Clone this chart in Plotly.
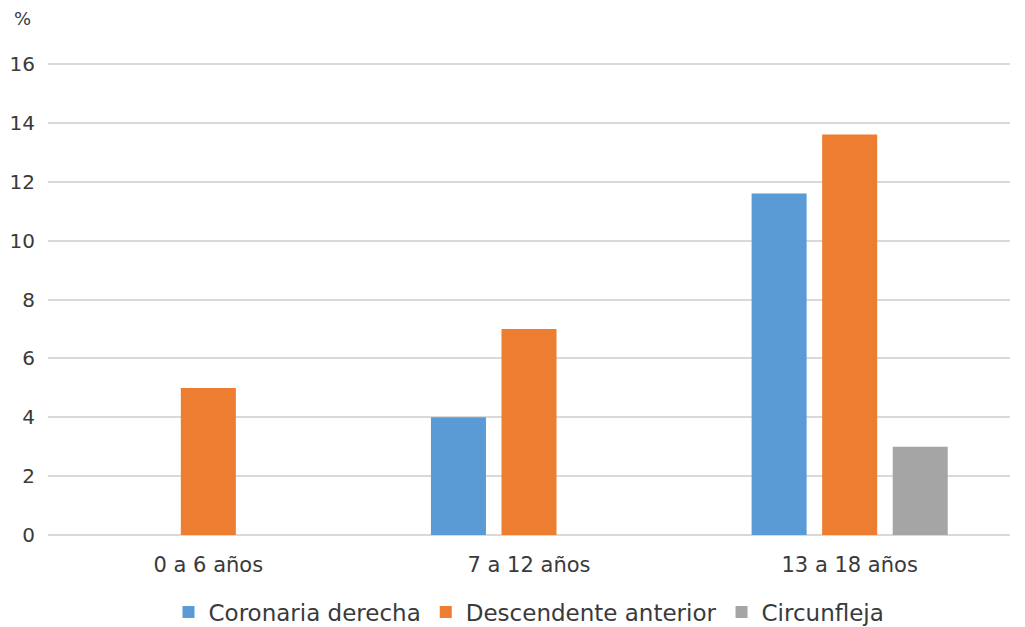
import plotly.graph_objects as go

categories = ["0 a 6 años", "7 a 12 años", "13 a 18 años"]
coronaria_derecha = [None, 4, 11.6]
descendente_anterior = [5, 7, 13.6]
circunfleja = [None, None, 3]
y_ticks = [0, 2, 4, 6, 8, 10, 12, 14, 16]

FONT = "DejaVu Sans"
TXT = "#3A3A3A"
GRID = "#D9D9D9"

fig = go.Figure()
fig.add_trace(go.Bar(name="Coronaria derecha", x=categories, y=coronaria_derecha,
                     marker=dict(color="#5B9BD5", line=dict(width=0))))
fig.add_trace(go.Bar(name="Descendente anterior", x=categories, y=descendente_anterior,
                     marker=dict(color="#ED7D31", line=dict(width=0))))
fig.add_trace(go.Bar(name="Circunfleja", x=categories, y=circunfleja,
                     marker=dict(color="#A5A5A5", line=dict(width=0))))

fig.update_layout(
    width=1025, height=627,
    margin=dict(l=48, r=15, t=61, b=91, autoexpand=False),
    paper_bgcolor="white", plot_bgcolor="white",
    barmode="group", bargap=0.34, bargroupgap=0.22,
    font=dict(family=FONT, size=20, color=TXT),
    showlegend=True,
    legend=dict(orientation="h", x=0.5, xanchor="center", y=-0.16, yanchor="middle",
                font=dict(family=FONT, size=23, color=TXT), itemwidth=30,
                traceorder="normal"),
    annotations=[dict(text="%", x=-0.026, y=1.09, xref="paper", yref="paper",
                      xanchor="center", yanchor="middle", showarrow=False,
                      font=dict(family=FONT, size=18, color=TXT))],
)
fig.update_yaxes(range=[-0.03, 16.1], tickvals=y_ticks, showgrid=True, gridcolor=GRID,
                 gridwidth=1.5, zeroline=True, zerolinecolor=GRID, zerolinewidth=1.5,
                 showline=False, ticklabelstandoff=12,
                 tickfont=dict(family=FONT, size=20, color=TXT))
fig.update_xaxes(showgrid=False, zeroline=False, showline=False, ticklabelstandoff=14,
                 tickfont=dict(family=FONT, size=21, color=TXT))

fig.write_html("out.html")
